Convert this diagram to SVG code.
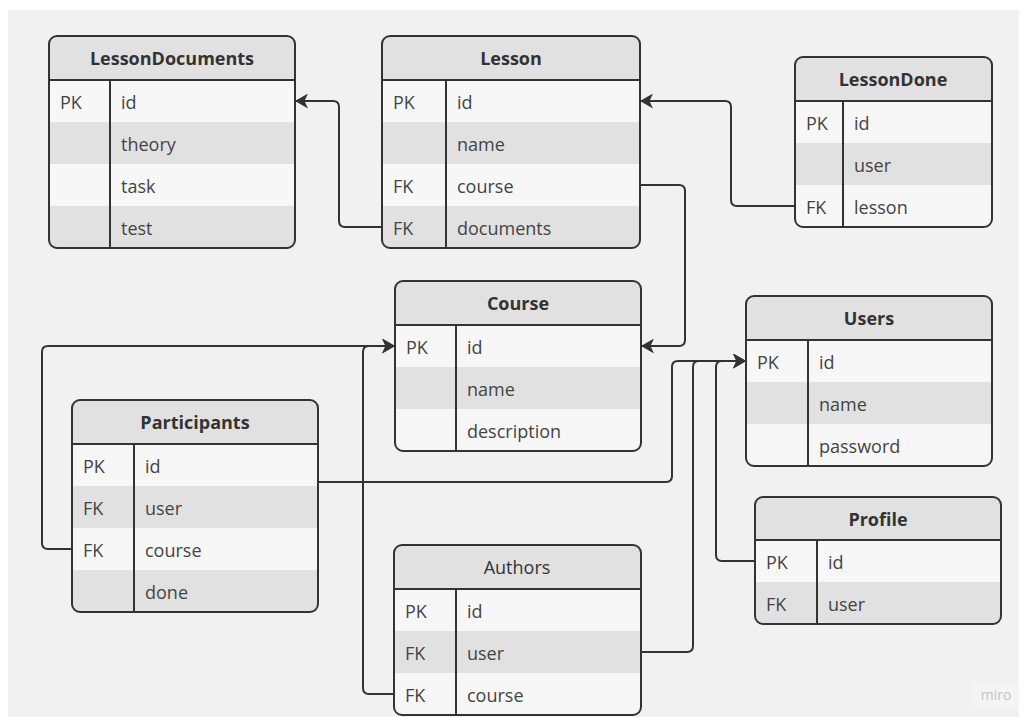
<svg xmlns="http://www.w3.org/2000/svg" width="1024" height="717" viewBox="0 0 1024 717">
<style>
.bg{fill:#f1f1f1}
.hdr{fill:#e1e1e1}
.lt{fill:#f7f7f7}
.dk{fill:#e1e1e1}
.frame{fill:none;stroke:#333;stroke-width:2}
.ln{stroke:#333;stroke-width:2}
.title{font-family:"Open Sans","Noto Sans",sans-serif;font-size:18px;font-weight:bold;fill:#333;text-anchor:middle}
.title.n{font-weight:normal}
.t{font-family:"Open Sans","Noto Sans",sans-serif;font-size:18px;fill:#444}
.conn path{fill:none;stroke:#333;stroke-width:2;marker-end:url(#arr)}
.wm{font-family:"Open Sans","Noto Sans",sans-serif;font-size:14px;fill:#c3c3cb}
</style>
<defs>
<marker id="arr" viewBox="0 0 13 15" refX="13" refY="7.5" markerWidth="13" markerHeight="15" markerUnits="userSpaceOnUse" orient="auto">
<path d="M0,0 L13,7.5 L0,15 L3.5,7.5 z" fill="#333"/>
</marker>
<clipPath id="c1"><rect x="49" y="36" width="246" height="212" rx="8"/></clipPath>
<clipPath id="c2"><rect x="382" y="36" width="258" height="212" rx="8"/></clipPath>
<clipPath id="c3"><rect x="795" y="57" width="197" height="170" rx="8"/></clipPath>
<clipPath id="c4"><rect x="395" y="281" width="246" height="170" rx="8"/></clipPath>
<clipPath id="c5"><rect x="746" y="296" width="246" height="170" rx="8"/></clipPath>
<clipPath id="c6"><rect x="72" y="400" width="246" height="212" rx="8"/></clipPath>
<clipPath id="c7"><rect x="394" y="545" width="247" height="170" rx="8"/></clipPath>
<clipPath id="c8"><rect x="755" y="497" width="246" height="127" rx="8"/></clipPath>
</defs>
<rect x="0" y="0" width="1024" height="717" fill="#ffffff"/>
<rect class="bg" x="8" y="10" width="1011" height="707"/>

<g id="LessonDocuments">
<g clip-path="url(#c1)">
<rect class="hdr" x="49" y="36" width="246" height="44"/>
<rect class="lt" x="49" y="80" width="246" height="42"/>
<rect class="dk" x="49" y="122" width="246" height="42"/>
<rect class="lt" x="49" y="164" width="246" height="42"/>
<rect class="dk" x="49" y="206" width="246" height="42"/>
</g>
<line class="ln" x1="49" y1="80" x2="295" y2="80"/>
<line class="ln" x1="110" y1="80" x2="110" y2="248"/>
<rect class="frame" x="49" y="36" width="246" height="212" rx="8"/>
<text class="title" x="172" y="65">LessonDocuments</text>
<text class="t" x="60" y="109">PK</text>
<text class="t" x="121" y="109">id</text>
<text class="t" x="121" y="151">theory</text>
<text class="t" x="121" y="193">task</text>
<text class="t" x="121" y="235">test</text>
</g>

<g id="Lesson">
<g clip-path="url(#c2)">
<rect class="hdr" x="382" y="36" width="258" height="44"/>
<rect class="lt" x="382" y="80" width="258" height="42"/>
<rect class="dk" x="382" y="122" width="258" height="42"/>
<rect class="lt" x="382" y="164" width="258" height="42"/>
<rect class="dk" x="382" y="206" width="258" height="42"/>
</g>
<line class="ln" x1="382" y1="80" x2="640" y2="80"/>
<line class="ln" x1="446" y1="80" x2="446" y2="248"/>
<rect class="frame" x="382" y="36" width="258" height="212" rx="8"/>
<text class="title" x="511" y="65">Lesson</text>
<text class="t" x="393" y="109">PK</text>
<text class="t" x="457" y="109">id</text>
<text class="t" x="457" y="151">name</text>
<text class="t" x="393" y="193">FK</text>
<text class="t" x="457" y="193">course</text>
<text class="t" x="393" y="235">FK</text>
<text class="t" x="457" y="235">documents</text>
</g>

<g id="LessonDone">
<g clip-path="url(#c3)">
<rect class="hdr" x="795" y="57" width="197" height="44"/>
<rect class="lt" x="795" y="101" width="197" height="42"/>
<rect class="dk" x="795" y="143" width="197" height="42"/>
<rect class="lt" x="795" y="185" width="197" height="42"/>
</g>
<line class="ln" x1="795" y1="101" x2="992" y2="101"/>
<line class="ln" x1="843" y1="101" x2="843" y2="227"/>
<rect class="frame" x="795" y="57" width="197" height="170" rx="8"/>
<text class="title" x="893" y="86">LessonDone</text>
<text class="t" x="806" y="130">PK</text>
<text class="t" x="854" y="130">id</text>
<text class="t" x="854" y="172">user</text>
<text class="t" x="806" y="214">FK</text>
<text class="t" x="854" y="214">lesson</text>
</g>

<g id="Course">
<g clip-path="url(#c4)">
<rect class="hdr" x="395" y="281" width="246" height="44"/>
<rect class="lt" x="395" y="325" width="246" height="42"/>
<rect class="dk" x="395" y="367" width="246" height="42"/>
<rect class="lt" x="395" y="409" width="246" height="42"/>
</g>
<line class="ln" x1="395" y1="325" x2="641" y2="325"/>
<line class="ln" x1="456" y1="325" x2="456" y2="451"/>
<rect class="frame" x="395" y="281" width="246" height="170" rx="8"/>
<text class="title" x="518" y="310">Course</text>
<text class="t" x="406" y="354">PK</text>
<text class="t" x="467" y="354">id</text>
<text class="t" x="467" y="396">name</text>
<text class="t" x="467" y="438">description</text>
</g>

<g id="Users">
<g clip-path="url(#c5)">
<rect class="hdr" x="746" y="296" width="246" height="44"/>
<rect class="lt" x="746" y="340" width="246" height="42"/>
<rect class="dk" x="746" y="382" width="246" height="42"/>
<rect class="lt" x="746" y="424" width="246" height="42"/>
</g>
<line class="ln" x1="746" y1="340" x2="992" y2="340"/>
<line class="ln" x1="808" y1="340" x2="808" y2="466"/>
<rect class="frame" x="746" y="296" width="246" height="170" rx="8"/>
<text class="title" x="869" y="325">Users</text>
<text class="t" x="757" y="369">PK</text>
<text class="t" x="819" y="369">id</text>
<text class="t" x="819" y="411">name</text>
<text class="t" x="819" y="453">password</text>
</g>

<g id="Participants">
<g clip-path="url(#c6)">
<rect class="hdr" x="72" y="400" width="246" height="44"/>
<rect class="lt" x="72" y="444" width="246" height="42"/>
<rect class="dk" x="72" y="486" width="246" height="42"/>
<rect class="lt" x="72" y="528" width="246" height="42"/>
<rect class="dk" x="72" y="570" width="246" height="42"/>
</g>
<line class="ln" x1="72" y1="444" x2="318" y2="444"/>
<line class="ln" x1="134" y1="444" x2="134" y2="612"/>
<rect class="frame" x="72" y="400" width="246" height="212" rx="8"/>
<text class="title" x="195" y="429">Participants</text>
<text class="t" x="83" y="473">PK</text>
<text class="t" x="145" y="473">id</text>
<text class="t" x="83" y="515">FK</text>
<text class="t" x="145" y="515">user</text>
<text class="t" x="83" y="557">FK</text>
<text class="t" x="145" y="557">course</text>
<text class="t" x="145" y="599">done</text>
</g>

<g id="Authors">
<g clip-path="url(#c7)">
<rect class="hdr" x="394" y="545" width="247" height="44"/>
<rect class="lt" x="394" y="589" width="247" height="42"/>
<rect class="dk" x="394" y="631" width="247" height="42"/>
<rect class="lt" x="394" y="673" width="247" height="42"/>
</g>
<line class="ln" x1="394" y1="589" x2="641" y2="589"/>
<line class="ln" x1="456" y1="589" x2="456" y2="715"/>
<rect class="frame" x="394" y="545" width="247" height="170" rx="8"/>
<text class="title n" x="517" y="574">Authors</text>
<text class="t" x="405" y="618">PK</text>
<text class="t" x="467" y="618">id</text>
<text class="t" x="405" y="660">FK</text>
<text class="t" x="467" y="660">user</text>
<text class="t" x="405" y="702">FK</text>
<text class="t" x="467" y="702">course</text>
</g>

<g id="Profile">
<g clip-path="url(#c8)">
<rect class="hdr" x="755" y="497" width="246" height="43"/>
<rect class="lt" x="755" y="540" width="246" height="42"/>
<rect class="dk" x="755" y="582" width="246" height="42"/>
</g>
<line class="ln" x1="755" y1="540" x2="1001" y2="540"/>
<line class="ln" x1="817" y1="540" x2="817" y2="624"/>
<rect class="frame" x="755" y="497" width="246" height="127" rx="8"/>
<text class="title" x="878" y="526">Profile</text>
<text class="t" x="766" y="569">PK</text>
<text class="t" x="828" y="569">id</text>
<text class="t" x="766" y="611">FK</text>
<text class="t" x="828" y="611">user</text>
</g>

<g id="connectors" class="conn">
<path d="M382,227 H345 Q339,227 339,221 V107 Q339,101 333,101 H295"/>
<path d="M794,206 H737 Q731,206 731,200 V107 Q731,101 725,101 H640"/>
<path d="M640,185 H679 Q685,185 685,191 V340 Q685,346 679,346 H641"/>
<path d="M72,549 H48 Q42,549 42,543 V352 Q42,346 48,346 H395"/>
<path d="M394,694 H369 Q363,694 363,688 V352 Q363,346 369,346 H395"/>
<path d="M318,482 H666 Q672,482 672,476 V367 Q672,361 678,361 H746"/>
<path d="M641,652 H687 Q693,652 693,646 V367 Q693,361 699,361 H746"/>
<path d="M755,561 H722 Q716,561 716,555 V367 Q716,361 722,361 H746"/>
</g>

<g id="watermark">
<rect x="973" y="683" width="46" height="25" fill="#f4f4f4"/>
<text class="wm" x="996" y="700" text-anchor="middle">miro</text>
</g>
</svg>
